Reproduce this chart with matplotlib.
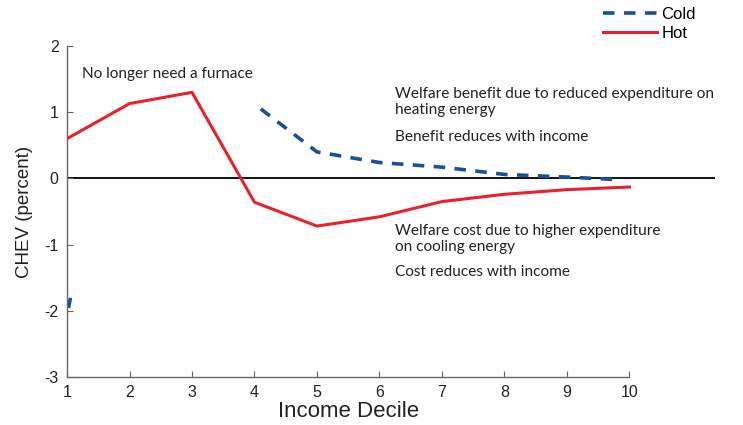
import matplotlib.pyplot as plt
import numpy as np

deciles = [1, 2, 3, 4, 5, 6, 7, 8, 9, 10]
hot = [0.60, 1.13, 1.30, -0.36, -0.72, -0.58, -0.35, -0.24, -0.17, -0.13]

cold_x = [4.1, 5, 6, 7, 8, 9, 9.85]
cold = [1.05, 0.40, 0.24, 0.17, 0.06, 0.02, -0.02]

# stray bit of the cold curve near the axis
stub_x = [1.03, 1.05]
stub_y = [-1.93, -1.83]

blue = '#1a4f9c'
red = '#e8212b'
note_font = 'Lato'

fig = plt.figure(figsize=(7.43, 4.25), dpi=100)
ax = fig.add_axes([67/743, 48/425, (715-67)/743, (377-46)/425])

ax.axhline(0, color='black', lw=1.3, zorder=1)
ax.plot(deciles, hot, color=red, lw=2.2, label='Hot', zorder=3)
ax.plot(cold_x, cold, color=blue, lw=2.6, ls=(0, (3.2, 2.6)), label='Cold', zorder=2)
ax.plot(stub_x, stub_y, color=blue, lw=2.6, zorder=2)

ax.set_xlim(1, 1 + (715-67)/62.5)
ax.set_ylim(-3, 2)
ax.set_xticks(deciles)
ax.set_yticks([-3, -2, -1, 0, 1, 2])
ax.set_yticklabels(['-3', '-2', '-1', '0', '1', '2'])

for s in ['top', 'right']:
    ax.spines[s].set_visible(False)
ax.spines['bottom'].set_bounds(1, 10)
for s in ['left', 'bottom']:
    ax.spines[s].set_color('#666666')
    ax.spines[s].set_linewidth(1.0)
ax.tick_params(direction='in', length=4, width=0.8, color='#666666',
               labelsize=11.5, labelcolor='#222222', pad=6)
for lab in ax.get_xticklabels() + ax.get_yticklabels():
    lab.set_family('Liberation Sans')

ax.set_xlabel('Income Decile', fontsize=16, family='Liberation Sans', color='#222222')
ax.xaxis.set_label_coords(5.5, -0.072, transform=ax.get_xaxis_transform())
ax.set_ylabel('CHEV (percent)', fontsize=13.5, family='Liberation Sans', color='#222222', labelpad=8)

notes = [
    (1.24, 1.57, 'No longer need a furnace'),
    (6.25, 1.28, 'Welfare benefit due to reduced expenditure on'),
    (6.25, 1.04, 'heating energy'),
    (6.25, 0.63, 'Benefit reduces with income'),
    (6.25, -0.79, 'Welfare cost due to higher expenditure'),
    (6.25, -1.03, 'on cooling energy'),
    (6.25, -1.42, 'Cost reduces with income'),
]
for x, y, t in notes:
    ax.text(x, y, t, fontsize=11.1, family=note_font, color='#222222', va='center', ha='left')

handles, labels = ax.get_legend_handles_labels()
leg = fig.legend(handles[::-1], labels[::-1], loc='upper right', bbox_to_anchor=(706/743, 1.008),
                 frameon=False, fontsize=12, handlelength=3.2, handletextpad=0.3,
                 labelspacing=0.28, borderaxespad=0.2)
for t in leg.get_texts():
    t.set_family('Liberation Sans')

fig.savefig('out.png', dpi=100)
